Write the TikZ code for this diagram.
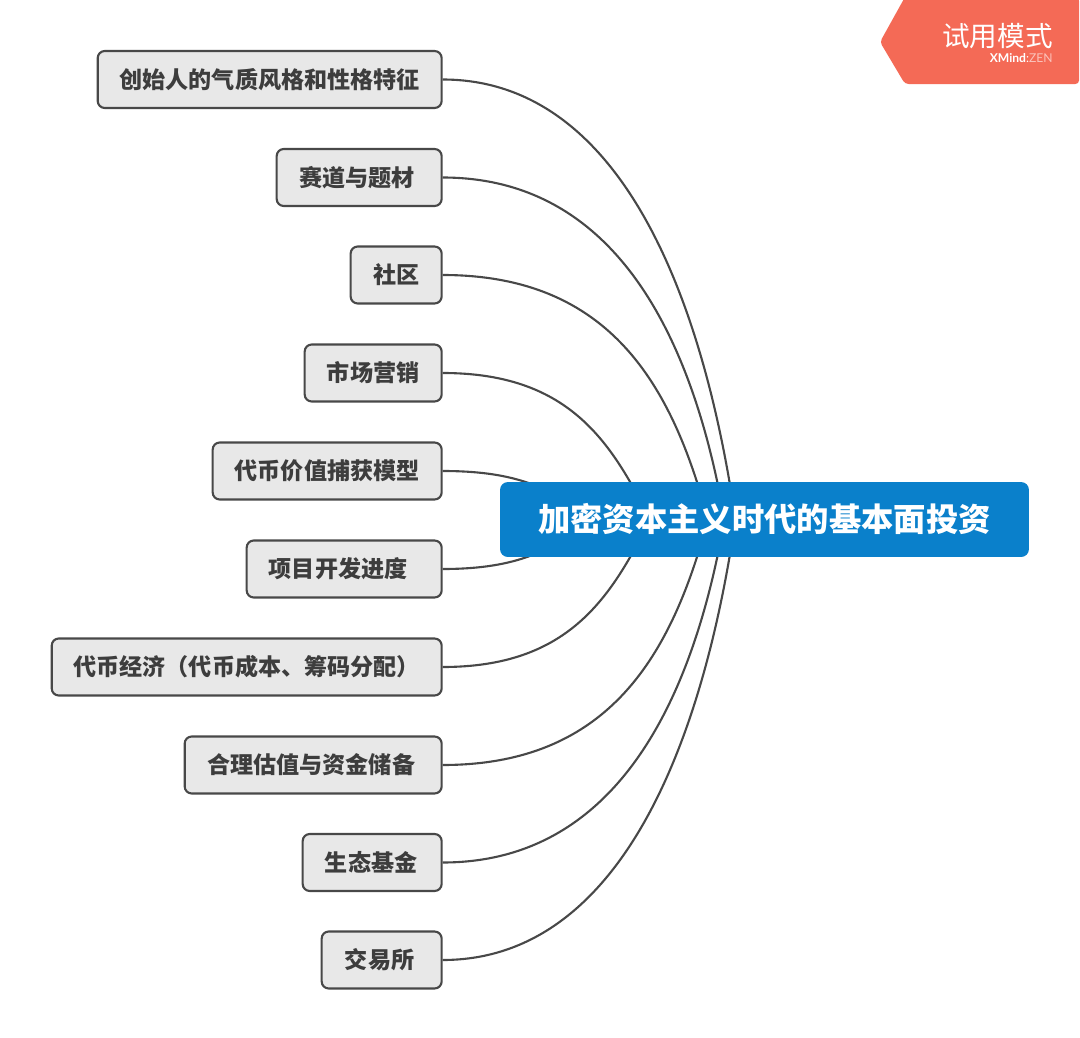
\documentclass[tikz,border=0pt]{standalone}
\usepackage{fontspec}
\setmainfont{Noto Sans CJK SC}
\newfontfamily\latinfont{Lato}
\usetikzlibrary{calc,backgrounds}
\definecolor{leaffill}{HTML}{E8E8E8}
\definecolor{leafline}{HTML}{484848}
\definecolor{rootblue}{HTML}{0A80CB}
\definecolor{trialred}{HTML}{F46A56}
\tikzset{lf/.append style={draw=leafline,fill=leaffill,line width=1.2pt,rounded corners=4pt,anchor=east,minimum height=1.14cm,inner sep=0pt,text=leafline!85!black,font=\fontsize{13.15}{15}\selectfont\bfseries}}
\tikzset{rt/.append style={fill=rootblue,rounded corners=4.5pt,minimum width=10.58cm,minimum height=1.5cm,inner sep=0pt,text=white,font=\fontsize{18.4}{22}\selectfont\bfseries}}
\tikzset{cn/.append style={draw=leafline,line width=1.2pt}}

\begin{document}
\begin{tikzpicture}[x=0.02cm,y=-0.02cm]
                \useasboundingbox (0,0) rectangle (1080,1038);
                \node[rt] (root) at (764.5,519.5) {加密资本主义时代的基本面投资};
                \node[lf,minimum width=6.88cm] (l1) at (442.7,79.5) {创始人的气质风格和性格特征};
                \node[lf,minimum width=3.3cm] (l2) at (442.7,177.5) {赛道与题材\kern2.3pt};
                \node[lf,minimum width=1.82cm] (l3) at (442.7,275) {社区};
                \node[lf,minimum width=2.74cm] (l4) at (442.7,373) {市场营销};
                \node[lf,minimum width=4.58cm] (l5) at (442.7,471) {代币价值捕获模型};
                \node[lf,minimum width=3.9cm] (l6) at (442.7,569) {项目开发进度\kern6.8pt};
                \node[lf,minimum width=7.8cm] (l7) at (442.7,667) {代币经济（代币成本、筹码分配）};
                \node[lf,minimum width=5.14cm] (l8) at (442.7,765) {合理估值与资金储备\kern2.3pt};
                \node[lf,minimum width=2.78cm] (l9) at (442.7,862.5) {生态基金\kern1.2pt};
                \node[lf,minimum width=2.4cm] (l10) at (442.7,960) {交易所\kern2.3pt};
                % connectors run behind the boxes
                \begin{scope}[on background layer]
                \draw[cn] (l1.east) .. controls (612,79.5) and (700,277) .. ($(root.center)+(-29,0)$);
                \draw[cn] (l2.east) .. controls (612,177.5) and (692,331) .. ($(root.center)+(-40,0)$);
                \draw[cn] (l3.east) .. controls (610,275) and (672,385) .. ($(root.center)+(-56.5,0)$);
                \draw[cn] (l4.east) .. controls (567,373) and (610,439) .. ($(root.center)+(-114.5,0)$);
                \draw[cn] (l5.east) .. controls (510,471) and (550,485) .. ($(root.center)+(-175,0)$);
                \draw[cn] (l6.east) .. controls (510,569) and (550,554) .. ($(root.center)+(-175,0)$);
                \draw[cn] (l7.east) .. controls (567,667) and (610,600) .. ($(root.center)+(-114.5,0)$);
                \draw[cn] (l8.east) .. controls (610,765) and (672,654) .. ($(root.center)+(-56.5,0)$);
                \draw[cn] (l9.east) .. controls (612,862.5) and (692,708) .. ($(root.center)+(-40,0)$);
                \draw[cn] (l10.east) .. controls (612,960) and (700,762) .. ($(root.center)+(-29,0)$);
                \end{scope}
                % trial badge
                \fill[trialred,rounded corners=2pt] (905,-3) -- (880,42) -- (905,84) -- (1079,84) -- (1079,-3) -- cycle;
                \node[text=white,inner sep=0pt,font=\fontsize{15.7}{18}\selectfont] (trial) at (997.5,36) {试用模式};
                \node[text=white,inner sep=0pt,anchor=east,font=\fontsize{6.9}{8}\selectfont\latinfont] (brand) at (1053,58.5) {\textbf{XMind}:\textcolor{white!60!trialred}{ZEN}};
            \end{tikzpicture}
\end{document}
